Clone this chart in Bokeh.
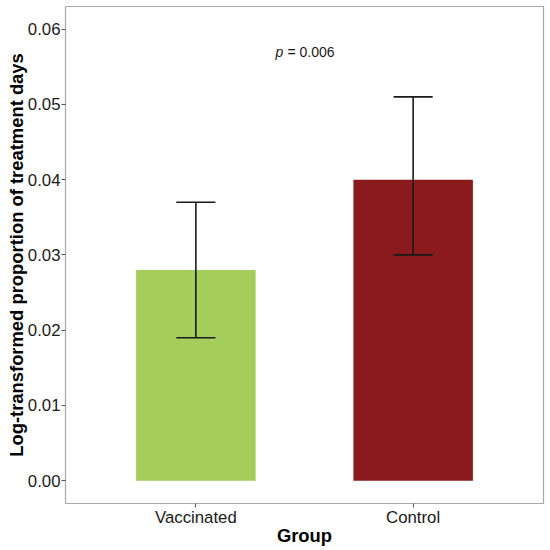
from bokeh.plotting import figure
from bokeh.models import FixedTicker, Range1d, ColumnDataSource
from bokeh.core.properties import value
from bokeh.embed import file_html
from bokeh.resources import INLINE

groups = ["Vaccinated", "Control"]
means = [0.028, 0.040]
lower = [0.019, 0.030]
upper = [0.037, 0.051]
colors = ["#A4CD5C", "#8B1A1D"]
y_ticks = [0.00, 0.01, 0.02, 0.03, 0.04, 0.05, 0.06]
y_tick_labels = ["0.00", "0.01", "0.02", "0.03", "0.04", "0.05", "0.06"]
p_label_value = "0.006"
p_label_pos = (1.5, 0.057)

xs = [i + 1 for i in range(len(groups))]
bar_w = 0.55
cap_w = 0.18

src = ColumnDataSource(dict(
    x=xs, top=means, lo=lower, hi=upper, color=colors,
    cl=[x - cap_w / 2 for x in xs], cr=[x + cap_w / 2 for x in xs],
))

p = figure(width=550, height=550, output_backend="svg", toolbar_location=None,
           x_range=Range1d(0.4, 2.6), y_range=Range1d(-0.00302, 0.0630),
           min_border_left=65, min_border_right=7, min_border_top=6, min_border_bottom=47)

p.vbar(x="x", top="top", bottom=0, width=bar_w, color="color", source=src, line_color=None)
p.segment(x0="x", x1="x", y0="lo", y1="hi", source=src, line_color="#1a1a1a", line_width=1.6)
p.segment(x0="cl", x1="cr", y0="lo", y1="lo", source=src, line_color="#1a1a1a", line_width=1.6)
p.segment(x0="cl", x1="cr", y0="hi", y1="hi", source=src, line_color="#1a1a1a", line_width=1.6)

font = value("Liberation Sans")
p.text(x=[p_label_pos[0]], y=[p_label_pos[1]], text=["p"], text_font=font,
       text_font_style="italic", text_font_size="14px", text_align="left",
       text_baseline="middle", x_offset=-29, text_color="#1a1a1a")
p.text(x=[p_label_pos[0]], y=[p_label_pos[1]], text=["= " + p_label_value], text_font=font,
       text_font_size="14px", text_align="left", text_baseline="middle",
       x_offset=-17, text_color="#1a1a1a")

p.xgrid.visible = False
p.ygrid.visible = False
p.outline_line_color = "#A8A8A8"
p.outline_line_width = 1.2
p.background_fill_color = "white"
p.border_fill_color = "white"

p.xaxis.ticker = FixedTicker(ticks=xs)
p.xaxis.major_label_overrides = {x: g for x, g in zip(xs, groups)}
p.yaxis.ticker = FixedTicker(ticks=y_ticks)
p.yaxis.major_label_overrides = {t: l for t, l in zip(y_ticks, y_tick_labels)}

for ax in (p.xaxis, p.yaxis):
    ax.axis_line_color = None
    ax.major_tick_line_color = "#555555"
    ax.major_tick_out = 4
    ax.major_tick_in = 0
    ax.minor_tick_line_color = None
    ax.major_label_text_font = "Liberation Sans"
    ax.major_label_text_font_size = "16.8px"
    ax.major_label_text_color = "#1a1a1a"
    ax.axis_label_text_font = "Liberation Sans"
    ax.axis_label_text_font_style = "bold"
    ax.axis_label_text_font_size = "18.4px"
    ax.axis_label_text_color = "black"

p.xaxis.axis_label = "Group"
p.yaxis.axis_label = "Log-transformed proportion of treatment days"
p.xaxis.major_label_standoff = 0
p.yaxis.major_label_standoff = 1
p.xaxis.axis_label_standoff = -5
p.yaxis.axis_label_standoff = -2

open("out.html", "w").write(file_html(p, INLINE))
